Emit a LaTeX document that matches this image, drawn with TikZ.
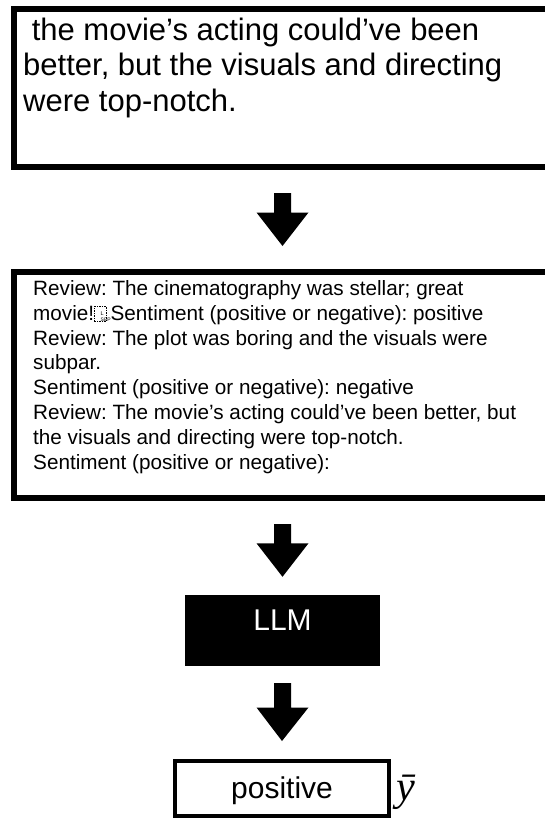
\documentclass[tikz,border=0pt]{standalone}
\usepackage{fontspec}
\setmainfont{Liberation Sans}
\newfontfamily\seriffont{Liberation Serif}
\usetikzlibrary{calc}

% small dashed "line separator" mark, as it appears inline in the prompt
\newcommand\lsepmark{\tikz[baseline=0pt,x=1pt,y=1pt]{%
  \draw[line width=0.6pt, dash pattern=on 1.5pt off 1pt] (0,-1.5) rectangle (12,13.5);
  \node[inner sep=0pt, font=\fontsize{5.5}{5.5}\selectfont] at (6,9) {L};
  \node[inner sep=0pt, font=\fontsize{5}{5}\selectfont] at (6,2.2) {SEP};}}

% filled block arrow pointing down from #1 to #2 (same x)
\newcommand\blockdown[2]{%
  \fill let \p1=(#1), \p2=(#2) in
    (\x1-8.5pt,\y1) -- (\x1+8.5pt,\y1) -- (\x1+8.5pt,\y2+33.5pt)
    -- (\x1+26pt,\y2+33.5pt) -- (\x2,\y2) -- (\x1-26pt,\y2+33.5pt)
    -- (\x1-8.5pt,\y2+33.5pt) -- cycle;}

\begin{document}
\frenchspacing
\begin{tikzpicture}[x=1pt,y=1pt,
  frame/.style={draw=black, rectangle, inner sep=0pt},
  bigtext/.style={font=\fontsize{31}{35.5}\selectfont},
  smalltext/.style={font=\fontsize{20.7}{24.9}\selectfont},
  para/.style={anchor=north west, inner sep=0pt, align=left}]
\useasboundingbox (0,0) rectangle (545,-819);
\clip (0,0) rectangle (545,-819);

% input review
\node[frame, line width=6pt, anchor=north west, minimum width=570pt, minimum height=157.7pt] (query) at (11,-6) {};
\node[para, bigtext] (querytext) at (23,-12)
  {\rule{0pt}{28pt}\ the movie’s acting could’ve been\\
   better, but the visuals and directing\\
   were top-notch.};

% few-shot prompt
\node[frame, line width=6pt, anchor=north west, minimum width=570pt, minimum height=226pt] (prompt) at (11,-269) {};
\node[para, smalltext] (prompttext) at (33,-280)
  {\rule{0pt}{14.5pt}Review: The cinematography was stellar; great\\
   movie!\lsepmark Sentiment (positive or negative): positive\\
   Review: The plot was boring and the visuals were\\
   subpar.\\
   Sentiment (positive or negative): negative\\
   Review: The movie’s acting could’ve been better, but\\
   the visuals and directing were top-notch.\\
   Sentiment (positive or negative):};

% model
\node[fill=black, inner sep=0pt, minimum width=195pt, minimum height=71pt,
      text=white, font=\fontsize{30}{30}\selectfont, text height=22pt, text depth=23pt]
  (llm) at (282.5,-630.5) {LLM};

% prediction
\node[frame, line width=4pt, minimum width=214pt, minimum height=55pt,
      font=\fontsize{30}{30}\selectfont, text height=25pt, text depth=6pt]
  (answer) at (282,-788.5) {positive};
\node[anchor=base west, inner sep=0pt, font=\seriffont\itshape\fontsize{42}{42}\selectfont]
  (ybar) at ($(answer.east)+(5,-12)$) {ȳ};

% flow arrows
\coordinate (a1s) at ($(llm.center |- query.south)+(0,-23.3)$);
\coordinate (a1e) at ($(llm.center |- prompt.north)+(0,23)$);
\coordinate (a2s) at ($(llm.center |- prompt.south)+(0,-23)$);
\coordinate (a2e) at ($(llm.north)+(0,18)$);
\coordinate (a3s) at ($(llm.south)+(0,-17)$);
\coordinate (a3e) at ($(answer.north)+(0,18)$);
\blockdown{a1s}{a1e}
\blockdown{a2s}{a2e}
\blockdown{a3s}{a3e}
\end{tikzpicture}
\end{document}
